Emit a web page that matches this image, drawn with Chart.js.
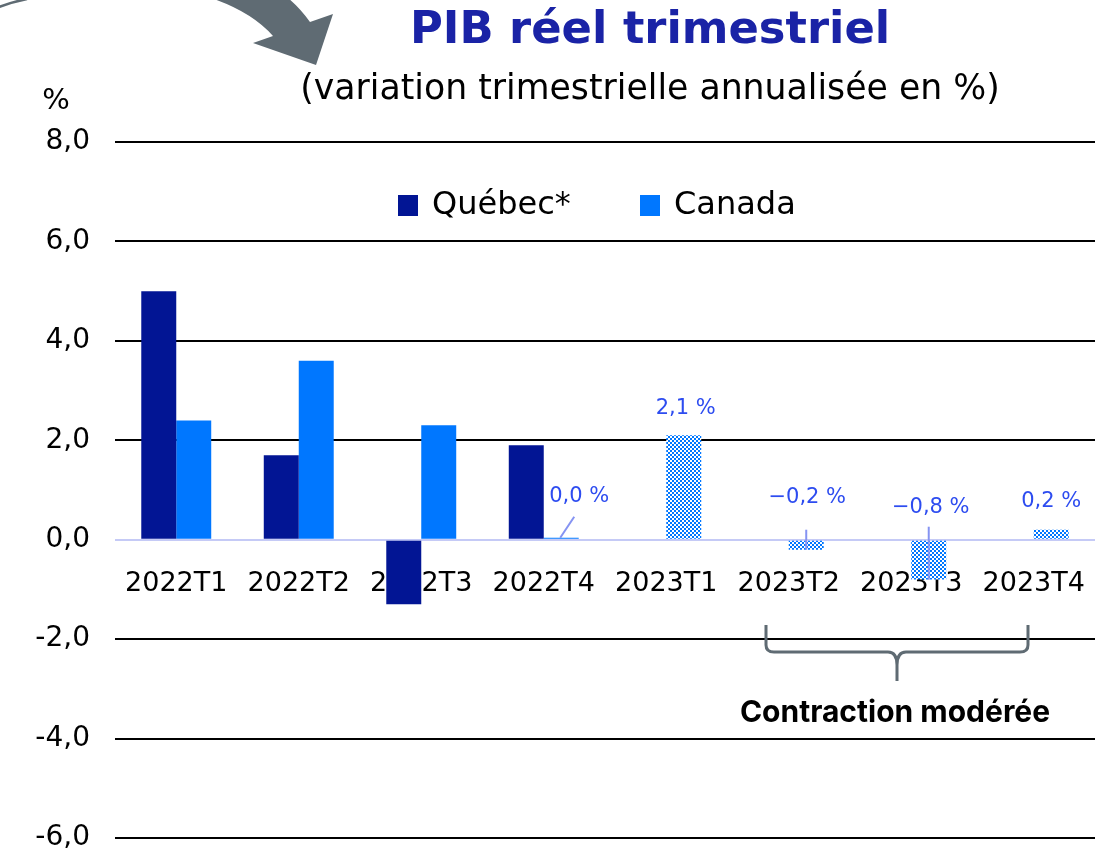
<!DOCTYPE html>
<html><head><meta charset="utf-8">
<script src="https://cdn.jsdelivr.net/npm/chart.js@4.4.0/dist/chart.umd.min.js"></script>
<style>html,body{margin:0;padding:0;background:#fff}#wrap{width:1117px;height:853px;position:relative}</style>
</head><body><div id="wrap"><canvas id="c" width="1117" height="853"></canvas></div>
<script>
const categories = ['2022T1','2022T2','2022T3','2022T4','2023T1','2023T2','2023T3','2023T4'];
const quebecValues = [5.0, 1.7, -1.3, 1.9, null, null, null, null];
const canadaValues = [2.4, 3.6, 2.3, 0.04, 2.1, -0.2, -0.8, 0.2];
const forecastFlags = [false, false, false, false, true, true, true, true];
const yTicks = [8, 6, 4, 2, 0, -2, -4, -6];
const titleText = 'PIB réel trimestriel';
const subtitleText = '(variation trimestrielle annualisée en %)';
const unitText = '%';
const braceText = 'Contraction modérée';

const FONT = '"DejaVu Sans", sans-serif';
const FONT2 = 'Inter, "Liberation Sans", sans-serif';
const QC = '#021594', CA = '#0077ff';

function makePattern() {
  const p = document.createElement('canvas'); p.width = 4; p.height = 4;
  const g = p.getContext('2d');
  g.fillStyle = '#fff'; g.fillRect(0,0,4,4);
  g.fillStyle = CA; g.fillRect(0,0,2,2); g.fillRect(2,2,2,2);
  return document.getElementById('c').getContext('2d').createPattern(p, 'repeat');
}
const pat = makePattern();
const canadaColors = forecastFlags.map(f => f ? pat : CA);

const fmt = v => v.toFixed(1).replace('.', ',').replace('-', '−');

function fitFont(ctx, text, weight, target, maxSize, fam) {
  fam = fam || FONT;
  ctx.font = weight + ' 40px ' + fam;
  const w = ctx.measureText(text).width;
  const s = Math.min(maxSize, 40 * target / w);
  ctx.font = weight + ' ' + s.toFixed(1) + 'px ' + fam;
}

const decor = {
  id: 'decor',
  afterDraw(chart) {
    const ctx = chart.ctx;
    ctx.save();
    // arrow
    ctx.fillStyle = '#5f6b73';
    ctx.beginPath();
    ctx.moveTo(211, -2);
    ctx.quadraticCurveTo(252, 12, 273, 36);
    ctx.lineTo(253, 43);
    ctx.lineTo(316, 65);
    ctx.lineTo(333, 14);
    ctx.lineTo(310, 22);
    ctx.quadraticCurveTo(300, 8, 288, -2);
    ctx.closePath();
    ctx.fill();
    ctx.strokeStyle = '#5f6b73'; ctx.lineWidth = 2.5;
    ctx.beginPath(); ctx.moveTo(-1, 7); ctx.quadraticCurveTo(12, 2, 27, -1); ctx.stroke();

    // titles
    ctx.textAlign = 'center'; ctx.textBaseline = 'middle';
    ctx.fillStyle = '#1a23a6';
    fitFont(ctx, titleText, 'bold', 480, 46);
    ctx.fillText(titleText, 650, 31);
    ctx.fillStyle = '#000';
    fitFont(ctx, subtitleText, 'normal', 700, 35);
    ctx.fillText(subtitleText, 650, 90);
    ctx.font = '29px ' + FONT;
    ctx.fillText(unitText, 56, 101);

    // legend
    ctx.textAlign = 'left';
    ctx.font = '32px ' + FONT;
    const items = [[chart.data.datasets[0].label, QC, 398], [chart.data.datasets[1].label, CA, 640]];
    items.forEach(([lab, col, x]) => {
      ctx.fillStyle = col; ctx.fillRect(x, 195, 20, 21);
      ctx.fillStyle = '#000'; ctx.fillText(lab, x + 34, 206);
    });

    // data labels for Canada (from 2022T4 onward)
    const meta = chart.getDatasetMeta(1);
    const y0 = chart.scales.y.getPixelForValue(0);
    const offs = {3:[18,-43,13,-23,-1,-2], 4:[2,0,null], 5:[1,-42,0,-10,0,10], 6:[2,-32,0,-13,0,40], 7:[0,-38,null]};
    ctx.font = '21px ' + FONT;
    ctx.textAlign = 'center';
    Object.keys(offs).forEach(k => {
      const i = +k, el = meta.data[i], o = offs[k];
      const cx = el.x, ly = (i === 4 ? el.y - 27 : y0 + o[1]);
      ctx.fillStyle = '#2d4cf0';
      ctx.fillText(fmt(canadaValues[i]) + ' %', cx + o[0], ly);
      if (o[2] !== null && o[2] !== undefined) {
        ctx.strokeStyle = '#8593f2'; ctx.lineWidth = 2;
        ctx.beginPath();
        ctx.moveTo(cx + o[2], y0 + o[3]);
        ctx.lineTo(cx + o[4], y0 + o[5]);
        ctx.stroke();
      }
    });

    // brace
    ctx.strokeStyle = '#5f6b73'; ctx.lineWidth = 3; ctx.lineJoin = 'round';
    ctx.beginPath();
    ctx.moveTo(766, 625);
    ctx.lineTo(766, 645);
    ctx.quadraticCurveTo(766, 652, 774, 652);
    ctx.lineTo(888, 652);
    ctx.quadraticCurveTo(897, 652, 897, 665);
    ctx.lineTo(897, 681);
    ctx.moveTo(897, 665);
    ctx.quadraticCurveTo(897, 652, 906, 652);
    ctx.lineTo(1020, 652);
    ctx.quadraticCurveTo(1028, 652, 1028, 645);
    ctx.lineTo(1028, 625);
    ctx.stroke();
    ctx.fillStyle = '#000';
    fitFont(ctx, braceText, 'bold', 335, 30, FONT2);
    ctx.fillText(braceText, 895, 713);
    ctx.restore();
  }
};

new Chart(document.getElementById('c'), {
  type: 'bar',
  data: {
    labels: categories,
    datasets: [
      { label: 'Québec*', data: quebecValues, backgroundColor: QC, categoryPercentage: 0.571, barPercentage: 1.0 },
      { label: 'Canada', data: canadaValues, backgroundColor: canadaColors, categoryPercentage: 0.571, barPercentage: 1.0 }
    ]
  },
  options: {
    responsive: false, animation: false,
    layout: { padding: { top: 142, right: 22, bottom: 15, left: 0 } },
    plugins: { legend: { display: false }, tooltip: { enabled: false } },
    scales: {
      x: {
        position: { y: 0 },
        afterFit(s) { s.height = 0; s.paddingLeft = 0; s.paddingRight = 0; s.paddingTop = 0; s.paddingBottom = 0; },
        grid: { display: false, drawTicks: false },
        border: { display: false },
        ticks: { color: '#000', font: { family: FONT, size: 27 }, padding: 28, maxRotation: 0, autoSkip: false }
      },
      y: {
        min: -6, max: 8,
        afterBuildTicks(s) { s.ticks = yTicks.slice().reverse().map(v => ({ value: v })); },
        afterFit(s) { s.width = 115; s.paddingTop = 0; s.paddingBottom = 0; },
        grid: { drawTicks: false, lineWidth: 2, color: c => c.tick && c.tick.value === 0 ? '#c5caf6' : '#000' },
        border: { display: false },
        ticks: { color: '#000', font: { family: FONT, size: 28 }, padding: 25, callback: v => fmt(v).replace('−', '-') }
      }
    }
  },
  plugins: [decor]
});
</script></body></html>
